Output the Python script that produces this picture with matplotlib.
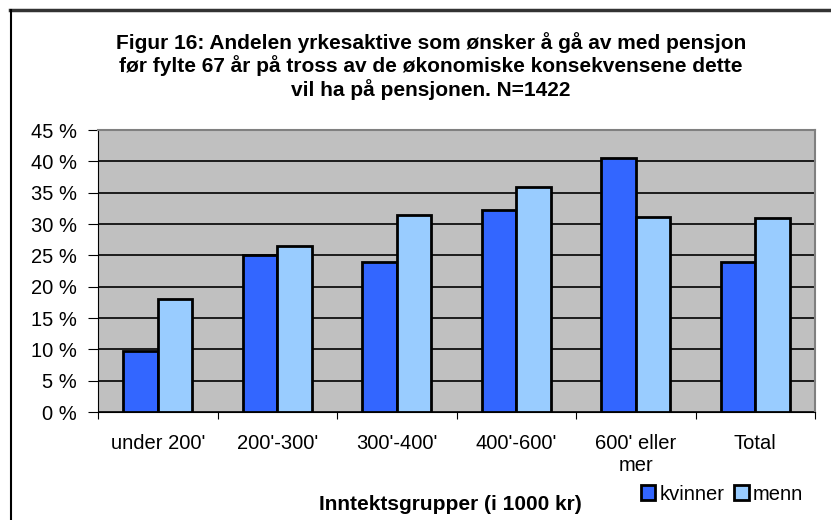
import matplotlib.pyplot as plt
import matplotlib.lines as mlines
import matplotlib.patches as mpatches
import numpy as np

plt.rcParams['font.family'] = ['Liberation Sans', 'DejaVu Sans']

# income groups (1000 kr)
categories = ["under 200'", "200'-300'", "300'-400'", "400'-600'", "600' eller\nmer", "Total"]
# share (%) who want to retire before 67
kvinner = [9.7, 25.0, 23.9, 32.2, 40.5, 24.0]
menn = [18.0, 26.5, 31.5, 35.9, 31.1, 31.0]
yticks = np.arange(0, 46, 5)

fig = plt.figure(figsize=(8.31, 5.2), dpi=100)
ax = fig.add_axes([98 / 831, 1 - 412 / 520, (815 - 98) / 831, (412 - 130) / 520])

x = np.arange(len(categories))
w = 0.29
ax.bar(x - w / 2, kvinner, w, color='#3366FF', edgecolor='black', linewidth=2, zorder=3, label='kvinner')
ax.bar(x + w / 2, menn, w, color='#99CCFF', edgecolor='black', linewidth=2, zorder=3, label='menn')

ax.set_facecolor('#C0C0C0')
ax.set_xlim(-0.5, len(categories) - 0.5)
ax.set_ylim(0, 45)
ax.set_yticks(yticks)
ax.set_yticklabels([f'{v} %' for v in yticks], fontsize=14.5)
ax.yaxis.grid(True, color='black', linewidth=1.2, zorder=1)

# category labels between the boundary ticks
ax.set_xticks(np.arange(-0.5, len(categories), 1))
ax.set_xticklabels([])
ax.set_xticks(x, minor=True)
ax.set_xticklabels(categories, minor=True, fontsize=14.5, linespacing=1.2, va='top')
ax.tick_params(axis='x', which='minor', length=0, pad=16)
ax.tick_params(axis='x', which='major', length=5, direction='out', color='black')
ax.tick_params(axis='y', length=7, direction='out', pad=8)

for side in ['top', 'right']:
    ax.spines[side].set_color('#808080')
    ax.spines[side].set_linewidth(1.5)
ax.spines['left'].set_color('black')
ax.spines['bottom'].set_color('black')

fig.text(431 / 831, 1 - 66 / 520,
         'Figur 16: Andelen yrkesaktive som ønsker å gå av med pensjon\n'
         'før fylte 67 år på tross av de økonomiske konsekvensene dette\n'
         'vil ha på pensjonen. N=1422',
         ha='center', va='center', fontsize=15, fontweight='bold', linespacing=1.15)

fig.text(450 / 831, 1 - 505 / 520, 'Inntektsgrupper (i 1000 kr)',
         ha='center', va='center', fontsize=15, fontweight='bold')

handles = [mpatches.Patch(facecolor='#3366FF', edgecolor='black', linewidth=2, label='kvinner'),
           mpatches.Patch(facecolor='#99CCFF', edgecolor='black', linewidth=2, label='menn')]
fig.legend(handles=handles, loc='center', bbox_to_anchor=(722 / 831, 1 - 494 / 520),
           ncol=2, frameon=False, fontsize=14.5, handlelength=0.7, handleheight=0.7,
           handletextpad=0.2, columnspacing=0.5, borderpad=0)

# outer frame (top and left only)
fig.add_artist(mlines.Line2D([10 / 831, 1], [1 - 10 / 520, 1 - 10 / 520], color='#333333', linewidth=2.5))
fig.add_artist(mlines.Line2D([11 / 831, 11 / 831], [0, 1 - 10 / 520], color='black', linewidth=1.5))

fig.savefig('out.png', dpi=100)
